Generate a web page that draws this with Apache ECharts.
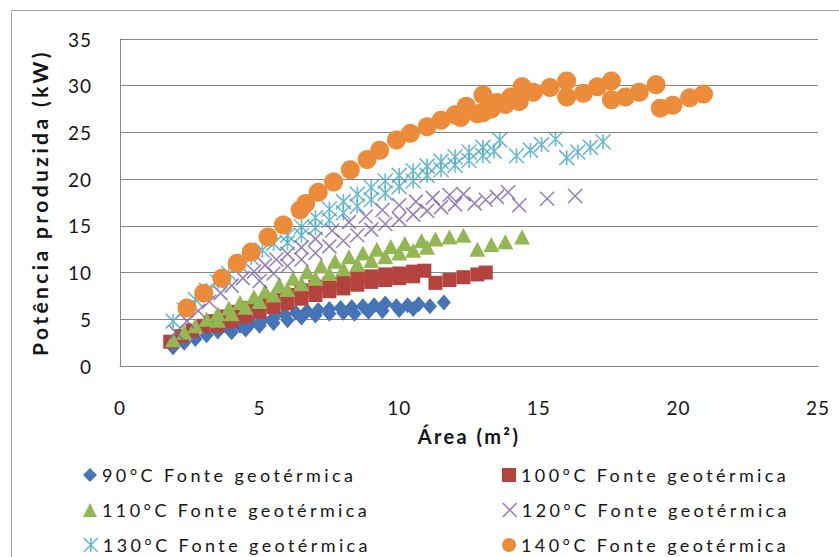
<!DOCTYPE html>
<html>
<head>
<meta charset="utf-8">
<script src="https://cdn.jsdelivr.net/npm/echarts@6/dist/echarts.min.js"></script>
<style>
  html, body { margin: 0; padding: 0; background: #ffffff; }
  #chart { width: 839px; height: 557px; }
  /* wider tracking for the chart texts (SVG renderer) */
  #chart text[style*="19px"] { letter-spacing: 1px; }
  #chart text[style*="18px"] { letter-spacing: 3.4px; }
  #chart text[style*="20px"] { letter-spacing: 2.4px; }
  #chart text[style*="21px"] { letter-spacing: 3.4px; }
</style>
</head>
<body>
<div id="chart"></div>
<script>
// Área (m²) / Potência produzida (kW) for each geothermal source temperature
const x90  = [1.9, 2.3, 2.7, 3.1, 3.5, 3.9, 4.3, 4.7, 5.1, 5.5, 5.9, 6.3, 6.7, 7.1, 7.5, 7.9, 8.3, 8.7, 9.1, 9.5, 9.9, 10.3, 10.7, 11.1, 11.6,
              4.0, 4.5, 5.0, 5.5, 6.0, 6.5, 7.0, 7.5, 8.0, 8.4, 8.9, 9.4, 10.0, 10.5];
const y90  = [2.0, 2.5, 2.9, 3.3, 3.7, 4.0, 4.3, 4.6, 4.9, 5.2, 5.5, 5.7, 5.9, 6.0, 6.1, 6.2, 6.3, 6.4, 6.5, 6.7, 6.4, 6.5, 6.6, 6.4, 6.8,
              3.6, 3.9, 4.3, 4.6, 4.9, 5.2, 5.4, 5.6, 5.7, 5.6, 5.8, 5.9, 6.0, 6.1];

const x100 = [1.8, 2.2, 2.6, 3.0, 3.4, 3.8, 4.2, 4.6, 5.0, 5.5, 6.0, 6.5, 7.0, 7.5, 8.0, 8.5, 9.0, 9.5, 10.0, 10.5, 10.9, 11.3, 11.8, 12.3, 12.8, 13.1,
              3.5, 4.0, 4.5, 5.0, 5.5, 6.0, 6.5, 7.0, 7.5, 8.0, 8.5, 9.0, 9.5, 10.0, 10.5];
const y100 = [2.6, 3.2, 3.8, 4.3, 4.8, 5.3, 5.8, 6.2, 6.6, 7.1, 7.6, 8.1, 8.5, 8.8, 9.1, 9.4, 9.6, 9.8, 9.9, 10.1, 10.2, 8.9, 9.2, 9.5, 9.8, 10.0,
              4.3, 4.8, 5.3, 5.8, 6.3, 6.7, 7.2, 7.6, 8.0, 8.3, 8.7, 9.0, 9.2, 9.4, 9.6];

const x110 = [1.9, 2.3, 2.7, 3.1, 3.5, 3.9, 4.3, 4.8, 5.2, 5.7, 6.2, 6.7, 7.2, 7.7, 8.2, 8.7, 9.2, 9.7, 10.2, 10.8, 11.3, 11.8, 12.3, 12.8, 13.3, 13.8, 14.4,
              3.5, 4.0, 4.5, 5.0, 5.5, 6.0, 6.5, 7.0, 7.5, 8.0, 8.5, 9.0, 9.5, 10.0, 10.5, 11.0];
const y110 = [2.8, 3.6, 4.3, 5.0, 5.6, 6.2, 6.8, 7.4, 8.0, 8.7, 9.4, 10.1, 10.7, 11.2, 11.7, 12.1, 12.5, 12.8, 13.1, 13.4, 13.6, 13.8, 14.0, 12.5, 13.0, 13.3, 13.8,
              4.9, 5.6, 6.3, 6.9, 7.6, 8.2, 8.8, 9.4, 9.9, 10.4, 10.9, 11.3, 11.7, 12.1, 12.4, 12.7];

const x120 = [2.0, 2.4, 2.8, 3.2, 3.6, 4.0, 4.4, 4.8, 5.2, 5.6, 6.0, 6.5, 7.0, 7.6, 8.2, 8.8, 9.4, 10.0, 10.6, 11.2, 11.8, 12.3, 12.7, 13.1, 13.5, 13.9, 14.3, 15.3, 16.3,
              5.0, 5.5, 6.0, 6.5, 7.0, 7.5, 8.0, 8.5, 9.0, 9.5, 10.0, 10.5, 11.0, 11.5, 12.0];
const y120 = [3.6, 4.8, 5.9, 6.9, 7.8, 8.6, 9.4, 10.1, 10.8, 11.4, 12.0, 12.7, 13.6, 14.5, 15.4, 16.0, 16.7, 17.2, 17.6, 18.0, 18.3, 18.4, 17.4, 17.8, 18.1, 18.6, 17.2, 17.9, 18.2,
              9.1, 9.9, 10.7, 11.4, 12.1, 12.8, 13.4, 14.0, 14.6, 15.2, 15.7, 16.2, 16.6, 17.0, 17.3];

const x130 = [1.9, 2.3, 2.7, 3.1, 3.5, 3.9, 4.3, 4.7, 5.1, 5.5, 6.0, 6.5, 7.0, 7.5, 8.0, 8.5, 9.0, 9.5, 10.0, 10.5, 11.0, 11.5, 12.0, 12.5, 13.0, 13.6, 14.2, 14.7, 15.1, 15.6, 16.0, 16.4, 16.85, 17.3,
              6.0, 6.5, 7.0, 7.5, 8.0, 8.5, 9.0, 9.5, 10.0, 10.5, 11.0, 11.5, 12.0, 12.5, 13.0, 13.4];
const y130 = [4.8, 6.0, 7.1, 8.1, 9.0, 9.9, 10.8, 11.6, 12.4, 13.1, 14.0, 14.9, 15.9, 16.8, 17.6, 18.4, 19.1, 19.8, 20.4, 20.9, 21.4, 21.9, 22.4, 22.9, 23.4, 24.2, 22.5, 23.1, 23.7, 24.3, 22.3, 22.9, 23.4, 24.0,
              13.2, 14.0, 14.8, 15.6, 16.4, 17.1, 17.8, 18.5, 19.2, 19.8, 20.4, 21.0, 21.5, 22.0, 22.5, 23.0];

const x140 = [2.4, 3.0, 3.65, 4.2, 4.7, 5.3, 5.85, 6.45, 6.65, 7.1, 7.65, 8.25, 8.85, 9.3, 9.9, 10.4, 11.0, 11.5, 12.0, 12.4, 13.0,
              12.2, 12.8, 13.0, 13.3, 13.5, 13.8, 14.0, 14.3, 14.4, 14.8, 15.4, 16.0, 16.0, 16.6, 17.1, 17.6, 17.6, 18.1, 18.6, 19.2, 19.35, 19.8, 20.4, 20.9];
const y140 = [6.2, 7.8, 9.4, 11.0, 12.2, 13.8, 15.1, 16.7, 17.4, 18.6, 19.7, 21.0, 22.1, 23.1, 24.2, 24.9, 25.6, 26.3, 26.9, 27.8, 29.0,
              26.6, 27.0, 27.1, 27.5, 28.2, 28.0, 28.8, 28.3, 29.9, 29.3, 29.8, 30.5, 28.8, 29.2, 29.9, 30.5, 28.5, 28.8, 29.3, 30.1, 27.6, 27.9, 28.7, 29.1];

const seriesNames = [
  '90°C Fonte geotérmica',
  '100°C Fonte geotérmica',
  '110°C Fonte geotérmica',
  '120°C Fonte geotérmica',
  '130°C Fonte geotérmica',
  '140°C Fonte geotérmica'
];

const xTitle = 'Área (m²)';
const yTitle = 'Potência produzida (kW)';

const FONT = 'Lato, "Open Sans", sans-serif';
const TEXT = '#151515';
const AXIS = '#868686';

const pairs = (xs, ys) => xs.map((x, i) => [x, ys[i]]);

const markers = [
  { symbol: 'diamond', size: [14, 16], color: '#4674B6' },
  { symbol: 'rect', size: 14, color: '#B4433E' },
  { symbol: 'triangle', size: [16, 15], color: '#93B752' },
  { symbol: 'path://M0,0L10,10M10,0L0,10', size: 14, color: '#7E62A6', stroke: true },
  { symbol: 'path://M0,0L10,10M10,0L0,10M5,0L5,10', size: 15, color: '#45A7C4', stroke: true },
  { symbol: 'circle', size: 19, color: '#EC8C3A' }
];

const values = [
  pairs(x90, y90), pairs(x100, y100), pairs(x110, y110),
  pairs(x120, y120), pairs(x130, y130), pairs(x140, y140)
];

const series = values.map((data, i) => {
  const m = markers[i];
  return {
    name: seriesNames[i],
    type: 'scatter',
    data: data,
    symbol: m.symbol,
    symbolSize: m.size,
    itemStyle: m.stroke
      ? { color: 'rgba(0,0,0,0)', borderColor: m.color, borderWidth: 1.6 }
      : { color: m.color, opacity: 1 },
    emphasis: { disabled: true }
  };
});

// legend: two columns of three rows, one entry per legend box
const legendCols = [83, 502];
const legendRows = [466, 501, 536];
const legends = seriesNames.map((name, i) => ({
  data: [name],
  left: legendCols[i % 2],
  top: legendRows[Math.floor(i / 2)],
  padding: 0,
  itemWidth: 14,
  itemHeight: 14,
  selectedMode: false,
  textStyle: { fontFamily: FONT, fontSize: 18, color: TEXT },
  itemStyle: { borderWidth: 'inherit' }
}));

const chart = echarts.init(document.getElementById('chart'), null, { renderer: 'svg' });
chart.setOption({
  animation: false,
  backgroundColor: '#ffffff',
  grid: { left: 120, right: 21, top: 39, bottom: 191 },
  graphic: [{
    type: 'rect',
    silent: true,
    shape: { x: 11.5, y: 10.5, width: 860, height: 600 },
    style: { fill: 'none', stroke: '#a3a3a3', lineWidth: 1 }
  }],
  legend: legends,
  xAxis: {
    type: 'value', min: 0, max: 25, interval: 5,
    name: xTitle, nameLocation: 'middle', nameGap: 60,
    nameTextStyle: { fontFamily: FONT, fontSize: 20, fontWeight: 'bold', color: TEXT },
    axisLine: { show: true, lineStyle: { color: AXIS, width: 1 } },
    axisTick: { show: false },
    axisLabel: { margin: 32, fontFamily: FONT, fontSize: 19, color: TEXT },
    splitLine: { show: false }
  },
  yAxis: {
    type: 'value', min: 0, max: 35, interval: 5,
    name: yTitle, nameLocation: 'middle', nameGap: 70, nameRotate: 90,
    nameTextStyle: { fontFamily: FONT, fontSize: 21, fontWeight: 'bold', color: TEXT },
    axisLine: { show: true, lineStyle: { color: AXIS, width: 1 } },
    axisTick: { show: false },
    axisLabel: { margin: 28, fontFamily: FONT, fontSize: 19, color: TEXT },
    splitLine: { show: true, lineStyle: { color: AXIS, width: 1 } }
  },
  series: series
});
</script>
</body>
</html>
